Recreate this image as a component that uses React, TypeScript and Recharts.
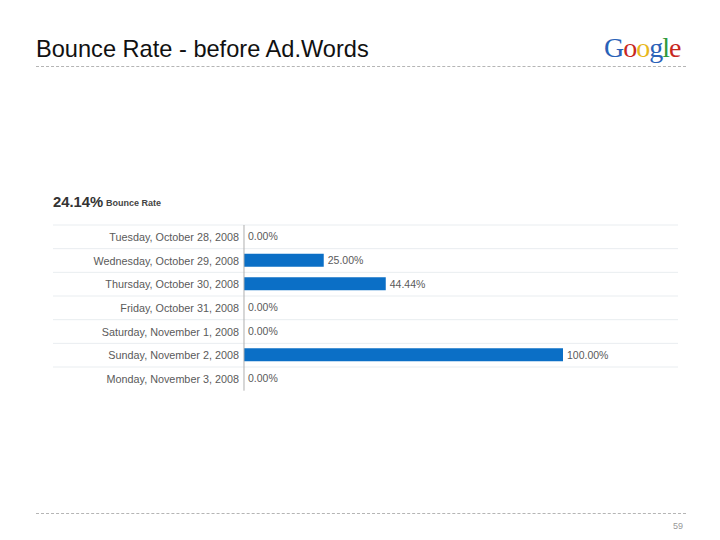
import React from 'react';
import { BarChart, Bar, XAxis, YAxis, ReferenceLine, LabelList } from 'recharts';

const dates = [
  'Tuesday, October 28, 2008',
  'Wednesday, October 29, 2008',
  'Thursday, October 30, 2008',
  'Friday, October 31, 2008',
  'Saturday, November 1, 2008',
  'Sunday, November 2, 2008',
  'Monday, November 3, 2008',
];
const bounceRates = [0, 25, 44.44, 0, 0, 100, 0];
const rows = dates.map((date, i) => ({ date, rate: bounceRates[i] }));

const logoLetters = [
  { ch: 'G', color: '#2a62b8' },
  { ch: 'o', color: '#c8281e' },
  { ch: 'o', color: '#e8b81c' },
  { ch: 'g', color: '#2a62b8' },
  { ch: 'l', color: '#2f9a3a' },
  { ch: 'e', color: '#c8281e' },
];

const sans = '"Liberation Sans", Arial, sans-serif';
const labelColor = '#5a5a5a';

const abs = (o: React.CSSProperties): React.CSSProperties => ({ position: 'absolute', whiteSpace: 'nowrap', ...o });

const DateTick = (props: any) => {
  const { x, y, payload } = props;
  return (
    <text x={x} y={y} dx={194} dy={4} textAnchor="end" fontFamily={sans} fontSize={10.8} fill={labelColor}>
      {payload.value}
    </text>
  );
};

export default function App() {
  return (
    <div style={{ position: 'absolute', left: 0, top: 0, width: 720, height: 540, background: '#fff', overflow: 'hidden', fontFamily: sans }}>
      <div style={abs({ left: 36, top: 35, fontSize: 23.6, lineHeight: '28px', color: '#111' })}>Bounce Rate - before Ad.Words</div>
      <div style={abs({ left: 604, top: 30, fontFamily: '"Liberation Serif", serif', fontSize: 28, lineHeight: '36px', letterSpacing: -1 })}>
        {logoLetters.map((l, i) => (
          <span key={i} style={{ color: l.color }}>{l.ch}</span>
        ))}
      </div>
      <div style={abs({ left: 36, top: 66, width: 650, borderTop: '1px dashed #b5b5b5' })} />
      <div style={abs({ left: 36, top: 513, width: 650, borderTop: '1px dashed #b5b5b5' })} />
      <div style={abs({ left: 673, top: 520, fontSize: 9, lineHeight: '12px', color: '#999' })}>59</div>
      <div style={abs({ left: 53, top: 193, fontSize: 14.8, fontWeight: 'bold', lineHeight: '18px', color: '#333' })}>24.14%</div>
      <div style={abs({ left: 106, top: 197, fontSize: 9, fontWeight: 'bold', lineHeight: '12px', color: '#444' })}>Bounce Rate</div>
      <div style={{ position: 'absolute', left: 0, top: 0 }}>
        <BarChart
          width={720}
          height={540}
          data={rows}
          layout="vertical"
          margin={{ top: 225, bottom: 149.3, left: 52, right: 42 }}
          barSize={13}
        >
          <XAxis type="number" hide domain={[-59.87, 136.05]} allowDataOverflow />
          <YAxis type="category" dataKey="date" width={1} axisLine={false} tickLine={false} interval={0} tick={<DateTick />} />
          {dates.map((d) => (
            <ReferenceLine key={d} y={d} position="start" stroke="#e9edf0" strokeWidth={1} />
          ))}
          <ReferenceLine x={0} stroke="#b0b0b0" strokeWidth={1} />
          <Bar dataKey="rate" fill="#0b6fc6" isAnimationActive={false} minPointSize={0.01}>
            <LabelList
              dataKey="rate"
              position="right"
              offset={4}
              fontFamily={sans}
              fontSize={10.5}
              fill={labelColor}
              formatter={(v: any) => `${Number(v).toFixed(2)}%`}
            />
          </Bar>
        </BarChart>
      </div>
    </div>
  );
}
